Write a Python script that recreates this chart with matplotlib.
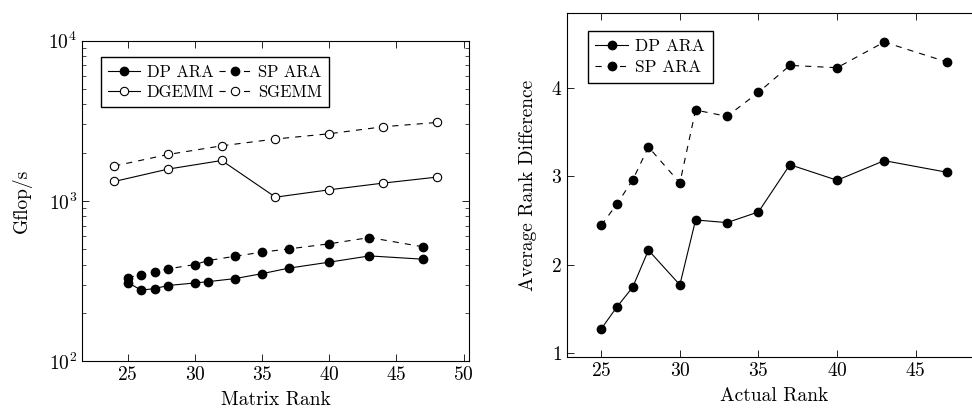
import matplotlib
matplotlib.use("Agg")
import matplotlib.pyplot as plt
from matplotlib.ticker import LogLocator, NullFormatter

plt.rcParams['font.family'] = 'cmr10'
plt.rcParams['mathtext.fontset'] = 'cm'
plt.rcParams['axes.formatter.use_mathtext'] = True
plt.rcParams['font.size'] = 14

# left panel: throughput vs matrix rank
gemm_rank = [24, 28, 32, 36, 40, 44, 48]
dgemm = [1321, 1578, 1786, 1054, 1172, 1290, 1406]
sgemm = [1650, 1947, 2206, 2432, 2624, 2900, 3085]
ara_rank = [25, 26, 27, 28, 30, 31, 33, 35, 37, 40, 43, 47]
dp_ara = [309, 277, 283, 296, 307, 313, 327, 351, 380, 414, 453, 432]
sp_ara = [332, 345, 360, 376, 400, 424, 451, 478, 501, 539, 590, 516]

# right panel: average rank difference
actual_rank = [25, 26, 27, 28, 30, 31, 33, 35, 37, 40, 43, 47]
dp_diff = [1.277, 1.525, 1.748, 2.166, 1.774, 2.508, 2.478, 2.599, 3.133, 2.957, 3.179, 3.047]
sp_diff = [2.448, 2.689, 2.96, 3.333, 2.927, 3.751, 3.68, 3.951, 4.256, 4.23, 4.52, 4.294]

dash = (0, (5.5, 5.5))
lw = 0.8
ms = 6

fig = plt.figure(figsize=(9.72, 4.11), dpi=100)
ax1 = fig.add_axes([0.0844, 0.1217, 0.398, 0.7793])
ax2 = fig.add_axes([0.583, 0.1307, 0.427, 0.8369])

l_dp, = ax1.plot(ara_rank, dp_ara, '-o', color='black', lw=lw, ms=ms, label='DP ARA')
l_sp, = ax1.plot(ara_rank, sp_ara, 'o', linestyle=dash, color='black', lw=lw, ms=ms, label='SP ARA')
l_dg, = ax1.plot(gemm_rank, dgemm, '-o', color='black', lw=lw, ms=ms, mfc='white', mew=0.8, label='DGEMM')
l_sg, = ax1.plot(gemm_rank, sgemm, 'o', linestyle=dash, color='black', lw=lw, ms=ms, mfc='white', mew=0.8, label='SGEMM')
ax1.set_yscale('log')
ax1.set_ylim(100, 10000)
ax1.set_xlim(21.6, 50.4)
ax1.set_xticks([25, 30, 35, 40, 45, 50])
ax1.yaxis.set_minor_locator(LogLocator(base=10, subs=range(2, 10)))
ax1.yaxis.set_minor_formatter(NullFormatter())
ax1.set_xlabel('Matrix Rank', labelpad=5)
ax1.set_ylabel('Gflop/s', labelpad=12)
# order so that rows read DP/SP then DGEMM/SGEMM
ax1.legend([l_dp, l_dg, l_sp, l_sg], ['DP ARA', 'DGEMM', 'SP ARA', 'SGEMM'],
           ncol=2, loc='upper left', bbox_to_anchor=(0.049, 0.95), fancybox=False,
           edgecolor='black', framealpha=1, fontsize=12, handlelength=1.9, handletextpad=0.4,
           columnspacing=0.3, borderpad=0.45, labelspacing=0.3, borderaxespad=0)

ax2.plot(actual_rank, dp_diff, '-o', color='black', lw=lw, ms=ms, label='DP ARA')
ax2.plot(actual_rank, sp_diff, 'o', linestyle=dash, color='black', lw=lw, ms=ms, label='SP ARA')
ax2.set_xlim(22.8, 49.2)
ax2.set_ylim(0.955, 4.845)
ax2.set_xticks([25, 30, 35, 40, 45])
ax2.set_yticks([1, 2, 3, 4])
ax2.set_xlabel('Actual Rank', labelpad=5)
ax2.set_ylabel('Average Rank Difference', labelpad=10)
ax2.legend(loc='upper left', bbox_to_anchor=(0.0506, 0.9485), fancybox=False,
           edgecolor='black', framealpha=1, fontsize=12.5, handlelength=1.9, handletextpad=0.4,
           borderpad=0.45, labelspacing=0.3, borderaxespad=0)

for ax in (ax1, ax2):
    ax.tick_params(which='both', direction='in', top=True, right=True)
    ax.tick_params(which='major', length=5, width=0.6)
    ax.tick_params(which='minor', length=3, width=0.5)
    for s in ax.spines.values():
        s.set_linewidth(0.8)

fig.savefig('out.png', dpi=100)
